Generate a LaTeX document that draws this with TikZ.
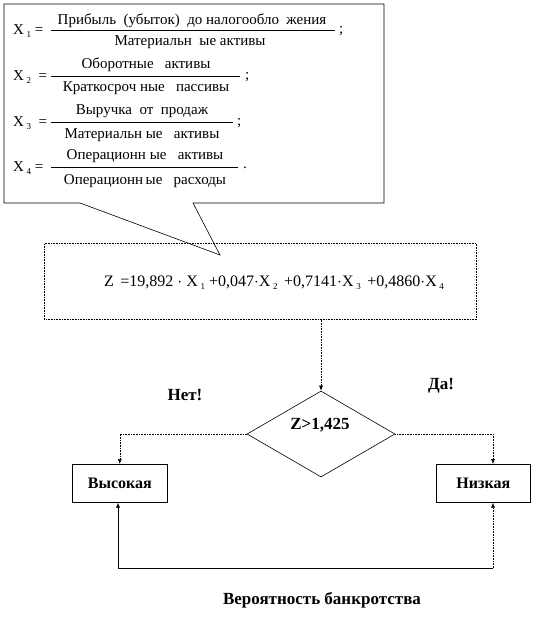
\documentclass[tikz,border=0pt]{standalone}
\usepackage{fontspec}
\setmainfont{Liberation Serif}
\newfontfamily\tnr{Liberation Serif}
\usetikzlibrary{arrows.meta,shapes.geometric}
\newcommand{\xs}[1]{X\,\raisebox{-3pt}{\fontsize{9}{9}\selectfont #1}}
\begin{document}
\begin{tikzpicture}[x=1pt,y=-1pt,
  txt/.style={font=\tnr\fontsize{15}{17}\selectfont, inner sep=0pt},
  ztxt/.style={font=\tnr\fontsize{16}{18}\selectfont, inner sep=0pt},
  btxt/.style={font=\tnr\fontsize{17}{19}\selectfont\bfseries, inner sep=0pt},
  dotline/.style={densely dotted, line width=0.6pt},
  arr/.style={-{Latex[length=5pt,width=4pt]}},
  thin line/.style={line width=0.6pt},
  box/.style={draw, line width=0.6pt, inner sep=0pt, font=\tnr\fontsize{16}{18}\selectfont\bfseries}]
\useasboundingbox (0,0) rectangle (544,622);
% callout
\draw[thin line] (4,4) -- (384,4) -- (384,203) -- (193,203) -- (220,255) -- (80,203) -- (4,203) -- cycle;
% X1
\node[txt, anchor=west] (x1) at (13,31) {\xs{1} =};
\node[txt] (n1) at (192,21) {Прибыль\ \ (убыток)\ \ до налогообло\ \ жения};
\node[txt] (d1) at (190,42) {Материальн\ \ ые активы};
\draw[thin line] (51,30) -- (335,30);
\node[txt, anchor=west] (p1) at (339,31) {;};
% X2
\node[txt, anchor=west] (x2) at (13,77) {\xs{2} \ =};
\node[txt] (n2) at (146,65) {Оборотные\ \ \ активы};
\node[txt] (d2) at (146,88) {Краткосроч\ ные\ \ \ пассивы};
\draw[thin line] (51,76) -- (240,76);
\node[txt, anchor=west] (p2) at (245,77) {;};
% X3
\node[txt, anchor=west] (x3) at (13,123) {\xs{3} \ =};
\node[txt] (n3) at (142,111) {Выручка\ \ от\ \ продаж};
\node[txt] (d3) at (142,135) {Материальн\ ые\ \ \ активы};
\draw[thin line] (51,122) -- (233,122);
\node[txt, anchor=west] (p3) at (237,123) {;};
% X4
\node[txt, anchor=west] (x4) at (13,168) {\xs{4} =};
\node[txt] (n4) at (145,156) {Операционн\ ые\ \ \ активы};
\node[txt] (d4) at (145,181) {Операционн\,ые\ \ \ расходы};
\draw[thin line] (51,167) -- (238,167);
\node[txt, anchor=west] (p4) at (243,168) {.};
% Z box
\node[draw, dotline, minimum width=432pt, minimum height=76pt, inner sep=0pt, anchor=north west] (zbox) at (44,243) {};
\node[ztxt] (zf) at (274,283) {Z \,=19,892 $\cdot$ \xs{1} +0,047$\cdot$\xs{2} \,+0,7141$\cdot$\xs{3} \,+0,4860$\cdot$\xs{4}};
% diamond
\node[draw, thin line, diamond, shape aspect=1.72, minimum width=148pt, minimum height=86pt, inner sep=0pt] (dia) at (321,434) {};
\node[btxt] (zc) at (320,425) {Z>1,425};
% boxes
\node[box, minimum width=95pt, minimum height=38pt, anchor=north west] (hi) at (72,464) {Высокая};
\node[box, minimum width=94pt, minimum height=38pt, anchor=north west] (lo) at (436,464) {Низкая};
% labels
\node[btxt] (no) at (185,395) {Нет!};
\node[btxt] (yes) at (441,386) {Да!};
\node[btxt] (prob) at (322,600) {Вероятность банкротства};
% connectors
\coordinate (rt) at (493,434);
\coordinate (bl) at (118,568);
\coordinate (br) at (493,568);
\draw[dotline, arr] (dia.north |- zbox.south) -- (dia.north);
\draw[dotline, arr] (dia.west) -| (hi.north);
\draw[dotline, arr] (dia.east) -- (rt) -- (rt |- lo.north);
\draw[thin line, arr] (bl) -- (bl |- hi.south);
\draw[thin line] (bl) -- (br);
\draw[dotline, arr] (br) -- (br |- lo.south);
\end{tikzpicture}
\end{document}
